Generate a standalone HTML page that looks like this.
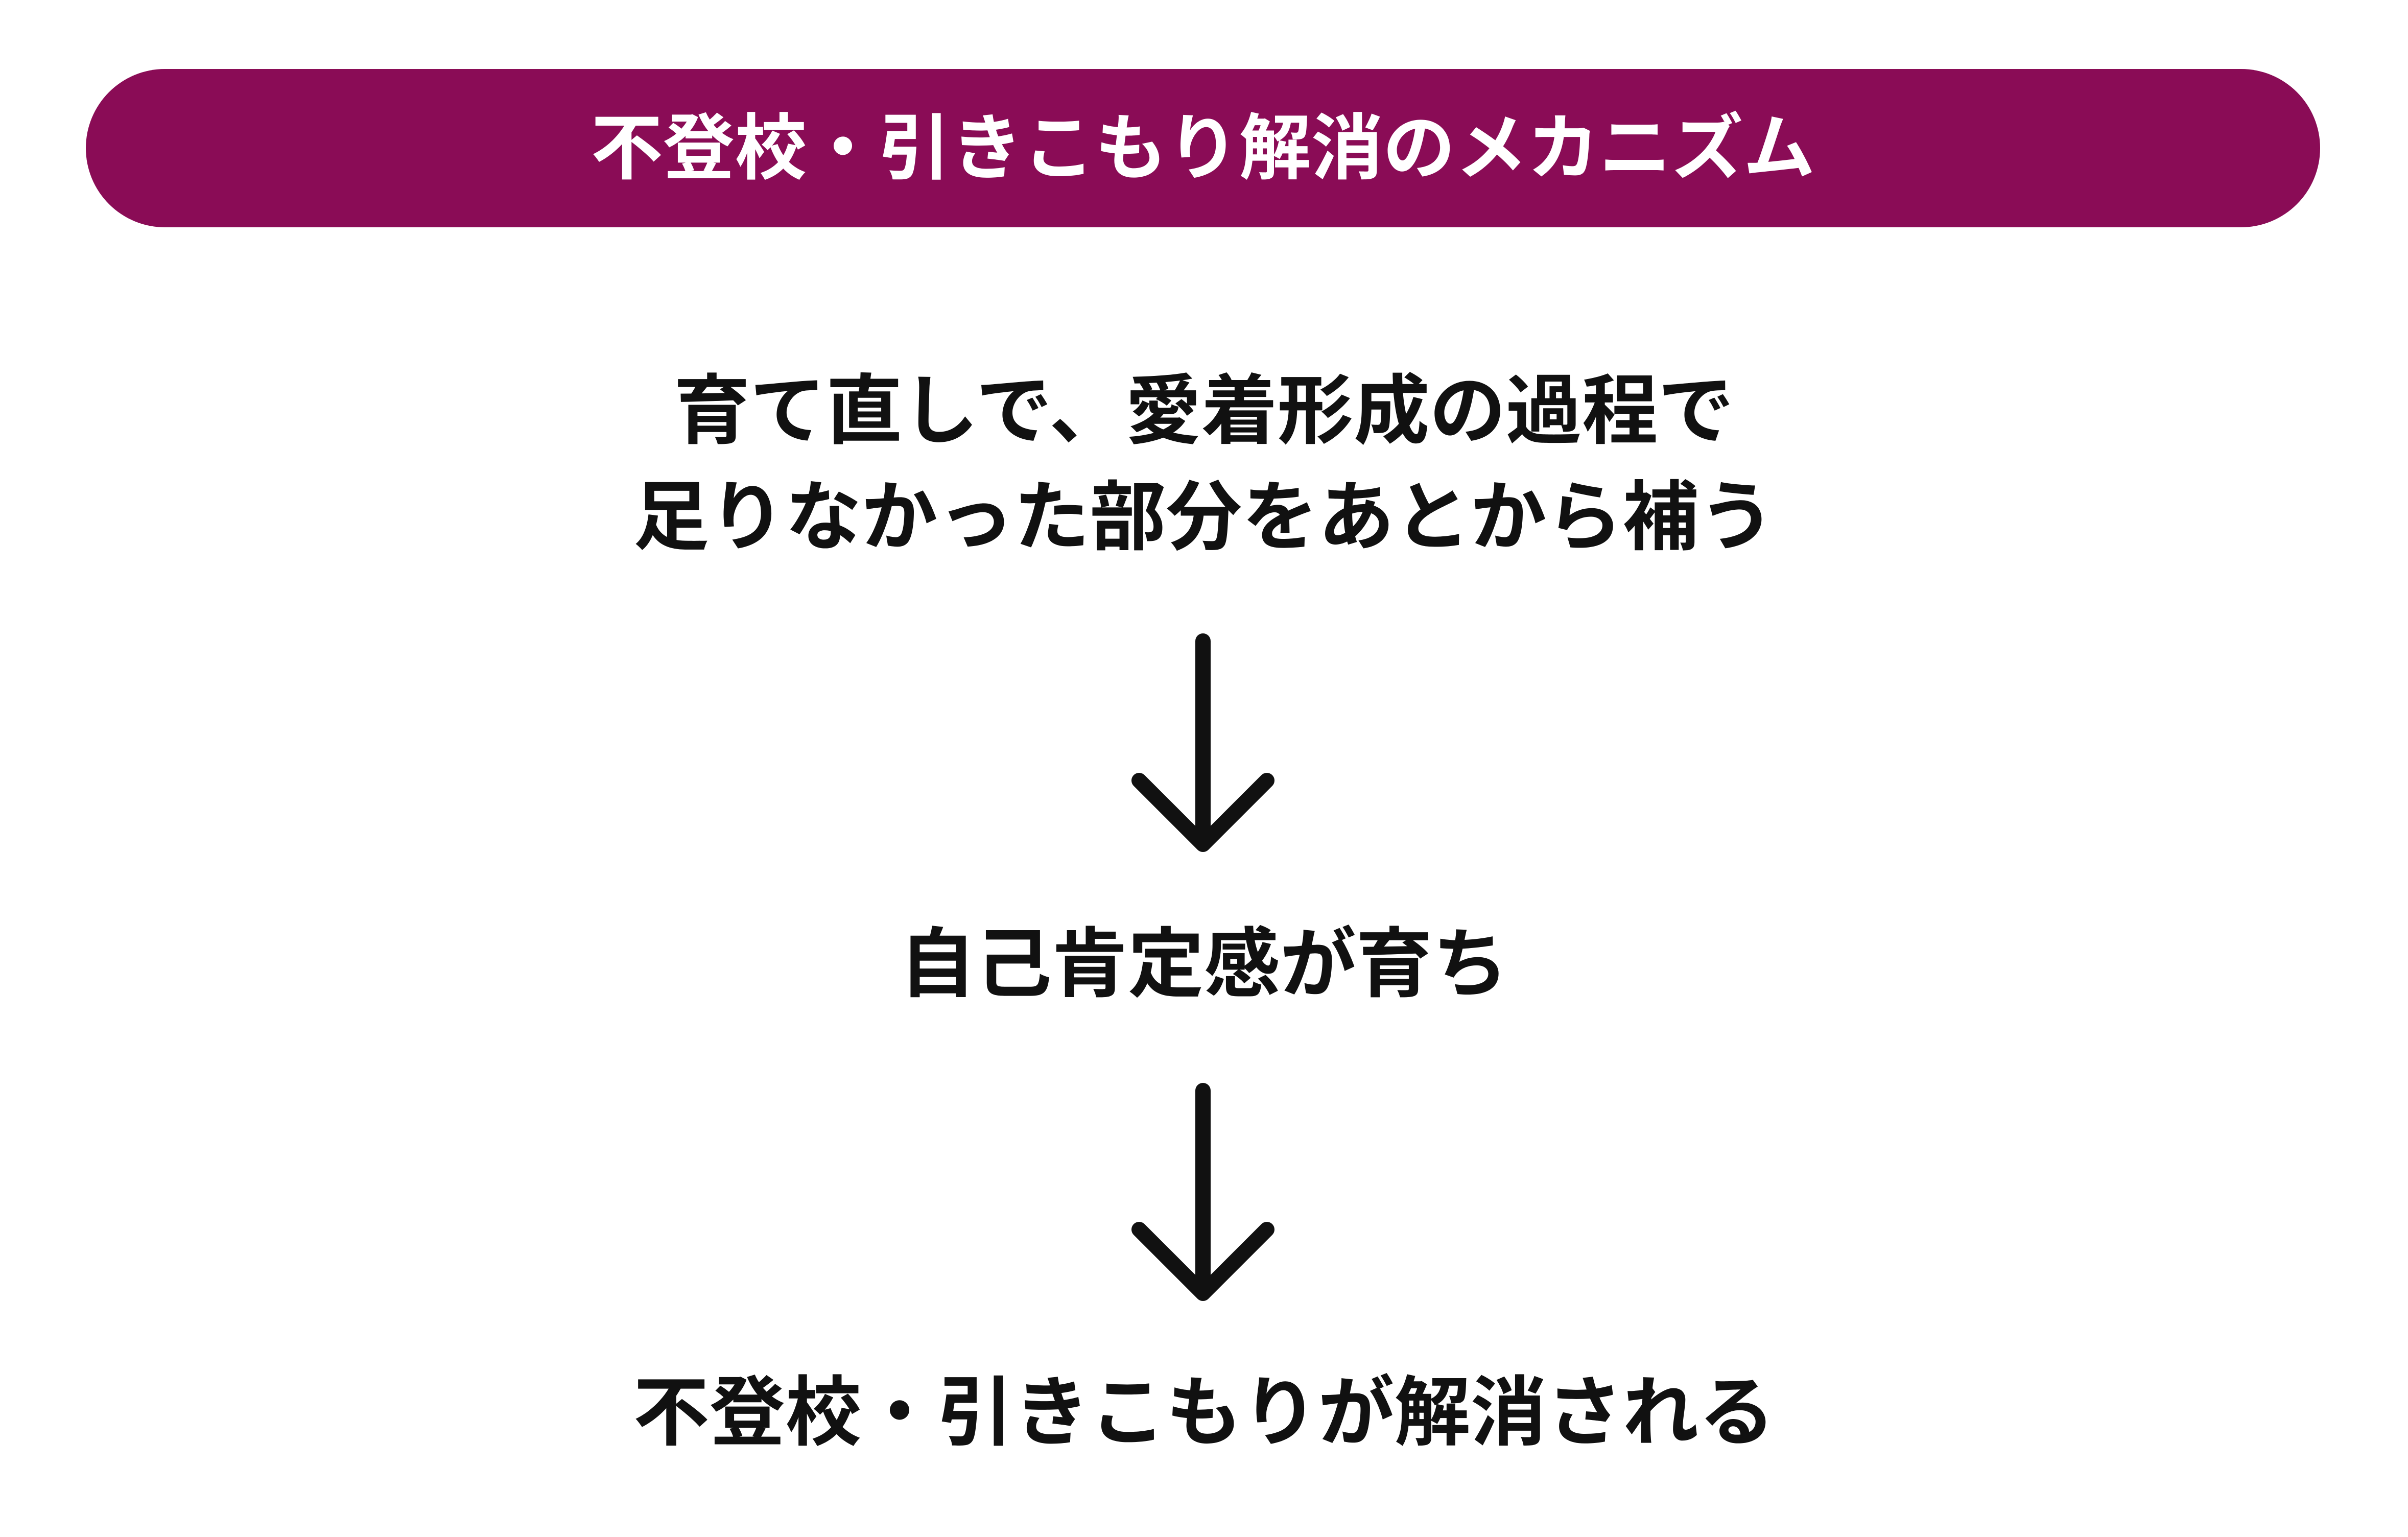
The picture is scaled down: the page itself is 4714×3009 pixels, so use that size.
<!DOCTYPE html>
<html><head><meta charset="utf-8"><style>
html,body{margin:0;padding:0;background:#fff;}
body{width:4714px;height:3009px;position:relative;overflow:hidden;font-family:"Liberation Sans","Noto Sans CJK JP",sans-serif;font-weight:bold;color:#111;}
.pill{position:absolute;left:168px;top:135px;width:4374px;height:310px;border-radius:155px;background:#8A0C56;color:#fff;font-size:141px;line-height:310px;text-align:center;}
.t{position:absolute;left:0;width:4714px;text-align:center;font-size:149px;line-height:1;}
svg{position:absolute;left:0;top:0;}
</style></head><body>
<div class="pill">不登校・引きこもり解消のメカニズム</div>
<div class="t" style="top:730px">育て直しで、愛着形成の過程で</div>
<div class="t" style="top:938px">足りなかった部分をあとから補う</div>
<div class="t" style="top:1813px">自己肯定感が育ち</div>
<div class="t" style="top:2691px">不登校・引きこもりが解消される</div>
<svg width="4714" height="3009" viewBox="0 0 4714 3009">
<g stroke="#111" stroke-width="30" stroke-linecap="round" stroke-linejoin="round" fill="none">
<path d="M2355 1255 V1652 M2230 1528 L2355 1653 L2480 1528"/>
<path d="M2355 2135 V2532 M2230 2407 L2355 2532 L2480 2407"/>
</g></svg>
</body></html>
